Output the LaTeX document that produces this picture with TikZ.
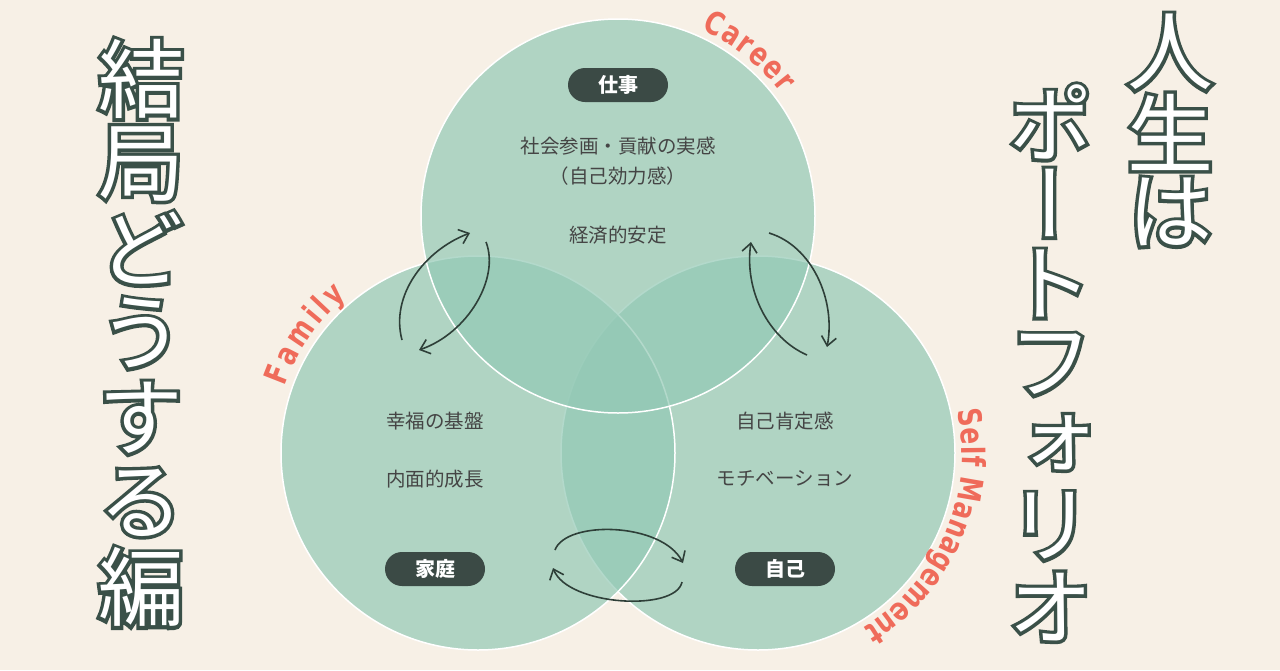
\documentclass[tikz,border=0pt]{standalone}
\usepackage{fontspec}
\usetikzlibrary{decorations.text,arrows.meta,calc}
\newfontfamily\jp{Noto Sans CJK JP}
\newfontfamily\jptitle[RawFeature=+vert]{Noto Sans CJK JP}
\newfontfamily\jpstroke[RawFeature=+vert,FakeBold=8]{Noto Sans CJK JP}
\newfontfamily\labfont[FakeStretch=0.78]{DejaVu Sans Bold}
\definecolor{bg}{HTML}{F7F0E6}
\definecolor{circ}{HTML}{93C9B5}
\definecolor{pillc}{HTML}{3B4A45}
\definecolor{ink}{HTML}{454545}
\definecolor{tdark}{HTML}{3A5048}
\definecolor{coral}{HTML}{EF6B5A}
\definecolor{arrowc}{HTML}{2E3F38}
\newcommand\outl[1]{%
  \leavevmode\rlap{\color{tdark}\jpstroke #1}{\color{white}#1}}
\tikzset{
  ttl/.style={inner sep=0pt, font=\jptitle\fontsize{86}{86}\selectfont},
  venn/.style={circle, minimum size=394pt, inner sep=0pt, fill=circ, fill opacity=0.7, draw=white, line width=1.5pt},
  pill/.style={fill=pillc, text=white, rounded corners=17pt, minimum width=100pt, minimum height=34pt, inner sep=0pt, font=\jp\fontsize{20}{20}\selectfont\bfseries},
  body/.style={text=ink, inner sep=0pt, font=\jp\fontsize{19.5}{20}\selectfont},
  cyc/.style={draw=arrowc, line width=1.6pt, -{Straight Barb[length=9pt,width=15pt]}},
  lab/.style={decorate, decoration={text along path, text align=fit to path, text color=coral, text={#1}}}
}
\begin{document}
\begin{tikzpicture}[x=1pt,y=-1pt]
\fill[bg] (0,0) rectangle (1280,670);
\useasboundingbox (0,0) rectangle (1280,670);

% Venn circles
\node[venn] (cR) at (758,453) {};
\node[venn] (cL) at (478,453) {};
\node[venn] (cT) at (618,216) {};

% curved labels
\path[lab={|\labfont\fontsize{32}{32}\selectfont|Career}]
  (cT.center) ++(-66:204) arc[start angle=-66, end angle=-37, radius=204];
\path[lab={|\labfont\fontsize{32}{32}\selectfont|Family}]
  (cL.center) ++(-161:204) arc[start angle=-161, end angle=-130, radius=204];
\path[lab={|\labfont\fontsize{32}{32}\selectfont|Self Management}]
  (cR.center) ++(-12:204) arc[start angle=-12, end angle=59, radius=204];

% pills
\node[pill] (bT) at (618,85) {仕事};
\node[pill] (bL) at (435,569) {家庭};
\node[pill] (bR) at (785,569) {自己};

% body texts
\node[body] (t1) at (618,146) {社会参画・貢献の実感};
\node[body] (t2) at (618,176) {（自己効力感）};
\node[body] (t3) at (618,235) {経済的安定};
\node[body] (l1) at (435,421) {幸福の基盤};
\node[body] (l2) at (435,479) {内面的成長};
\node[body] (r1) at (785,421) {自己肯定感};
\node[body] (r2) at (785,479) {モチベーション};

% cycle arrows
\coordinate (a1s) at (402,340); \coordinate (a1e) at (470,233);
\coordinate (b1s) at (486,242); \coordinate (b1e) at (419,350);
\coordinate (a2s) at (807,355); \coordinate (a2e) at (751,242);
\coordinate (b2s) at (769,233); \coordinate (b2e) at (827,347);
\coordinate (a3s) at (555,550); \coordinate (a3e) at (683,563);
\coordinate (b3s) at (682,582); \coordinate (b3e) at (553,568);
\draw[cyc] (a1s) .. controls (390,295) and (425,250) .. (a1e);
\draw[cyc] (b1s) .. controls (500,278) and (468,333) .. (b1e);
\draw[cyc] (a2s) .. controls (768,338) and (744,290) .. (a2e);
\draw[cyc] (b2s) .. controls (812,246) and (836,300) .. (b2e);
\draw[cyc] (a3s) .. controls (566,520) and (662,522) .. (a3e);
\draw[cyc] (b3s) .. controls (676,612) and (568,606) .. (b3e);

% titles
\foreach \c [count=\i] in {結,局,ど,う,す,る,編}
  \node[ttl] (L\i) at (141,{79+84.7*(\i-1)}) {\outl{\c}};
\foreach \c [count=\i] in {人,生,は}
  \node[ttl] (R\i) at (1170,{52+80*(\i-1)}) {\outl{\c}};
\foreach \c [count=\i] in {ポ,ー,ト,フ,ォ,リ,オ}
  \node[ttl] (P\i) at (1050,{122+80.8*(\i-1)}) {\outl{\c}};
\end{tikzpicture}
\end{document}
